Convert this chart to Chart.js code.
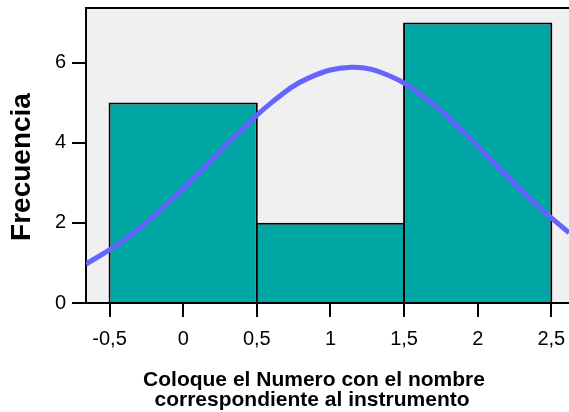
<!DOCTYPE html>
<html>
<head>
<meta charset="utf-8">
<script src="https://cdn.jsdelivr.net/npm/chart.js@4/dist/chart.umd.min.js"></script>
<style>
  html, body { margin: 0; padding: 0; background: #fff; }
  #wrap { width: 569px; height: 412px; }
</style>
</head>
<body>
<div id="wrap"><canvas id="histChart" width="569" height="412"></canvas></div>
<script>
// Histogram data (bin centers, frequencies)
const binCenters = [0, 1, 2];
const frequencies = [5, 2, 7];

// Normal curve
const curveX = [-0.66, -0.4, -0.15, 0.1, 0.35, 0.6, 0.85, 1.14, 1.4, 1.65, 1.9, 2.15, 2.4, 2.62];
const curveY = [0.97, 1.57, 2.33, 3.22, 4.15, 5.0, 5.61, 5.88, 5.67, 5.1, 4.28, 3.35, 2.45, 1.75];

const yTicks = [0, 2, 4, 6];
const xTitleLines = ["Coloque el Numero con el nombre", "correspondiente al instrumento"];
const yTitle = "Frecuencia";

const FONT = '"Liberation Sans", Arial, sans-serif';

// Grey plot background, top frame line and the axis titles
const framePlugin = {
  id: "frame",
  beforeDraw(chart) {
    const { ctx, chartArea } = chart;
    ctx.save();
    ctx.fillStyle = "#f0f0f0";
    ctx.fillRect(chartArea.left, chartArea.top, chartArea.right - chartArea.left, chartArea.bottom - chartArea.top);
    ctx.restore();
  },
  afterDraw(chart) {
    const { ctx, chartArea } = chart;
    ctx.save();
    ctx.strokeStyle = "#000";
    ctx.lineWidth = 2;
    ctx.beginPath();
    ctx.moveTo(chartArea.left - 1, chartArea.top);
    ctx.lineTo(chartArea.right, chartArea.top);
    ctx.stroke();

    ctx.fillStyle = "#000";
    ctx.textAlign = "center";
    ctx.textBaseline = "alphabetic";
    ctx.font = "bold 21px " + FONT;
    ctx.fillText(xTitleLines[0], 314, 386);
    ctx.fillText(xTitleLines[1], 312, 406);

    ctx.translate(22, 167);
    ctx.rotate(-Math.PI / 2);
    ctx.textBaseline = "middle";
    ctx.font = "bold 28px " + FONT;
    ctx.fillText(yTitle, 0, 0);
    ctx.restore();
  }
};

const ctx = document.getElementById("histChart").getContext("2d");

new Chart(ctx, {
  type: "bar",
  data: {
    datasets: [
      {
        type: "line",
        data: curveX.map((x, i) => ({ x: x, y: curveY[i] })),
        borderColor: "#6464ff",
        borderWidth: 5,
        pointRadius: 0,
        tension: 0.4,
        fill: false,
        order: 0
      },
      {
        type: "bar",
        data: binCenters.map((x, i) => ({ x: x, y: frequencies[i] })),
        backgroundColor: "#00a6a3",
        borderColor: "#000",
        borderWidth: 2,
        // bar ruler uses the 0.5 tick spacing; a bit over 2 so neighbours share one border
        barPercentage: 2.027,
        categoryPercentage: 1,
        order: 1
      }
    ]
  },
  options: {
    responsive: false,
    animation: false,
    layout: { padding: { top: 8, right: 0, left: 0, bottom: 0 } },
    plugins: {
      legend: { display: false },
      tooltip: { enabled: false }
    },
    scales: {
      x: {
        type: "linear",
        min: -0.66,
        max: 2.62,
        offset: false,
        grid: { offset: false, drawOnChartArea: false, color: "#000", lineWidth: 2, tickLength: 14 },
        border: { display: true, color: "#000", width: 2 },
        ticks: {
          stepSize: 0.5,
          includeBounds: false,
          padding: 10,
          color: "#000",
          font: { family: FONT, size: 20 },
          maxRotation: 0,
          callback: (v) => String(v).replace(".", ",")
        },
        afterFit(scale) {
          scale.height = 109;
          scale.paddingLeft = 0;
          scale.paddingRight = 0;
        }
      },
      y: {
        min: 0,
        max: 7.36,
        grid: { drawOnChartArea: false, color: "#000", lineWidth: 2, tickLength: 14 },
        border: { display: true, color: "#000", width: 2 },
        afterBuildTicks(scale) { scale.ticks = yTicks.map(v => ({ value: v })); },
        ticks: {
          padding: 6,
          color: "#000",
          font: { family: FONT, size: 20 }
        },
        afterFit(scale) {
          scale.width = 86;
          scale.paddingTop = 0;
          scale.paddingBottom = 0;
        }
      }
    }
  },
  plugins: [framePlugin]
});
</script>
</body>
</html>
